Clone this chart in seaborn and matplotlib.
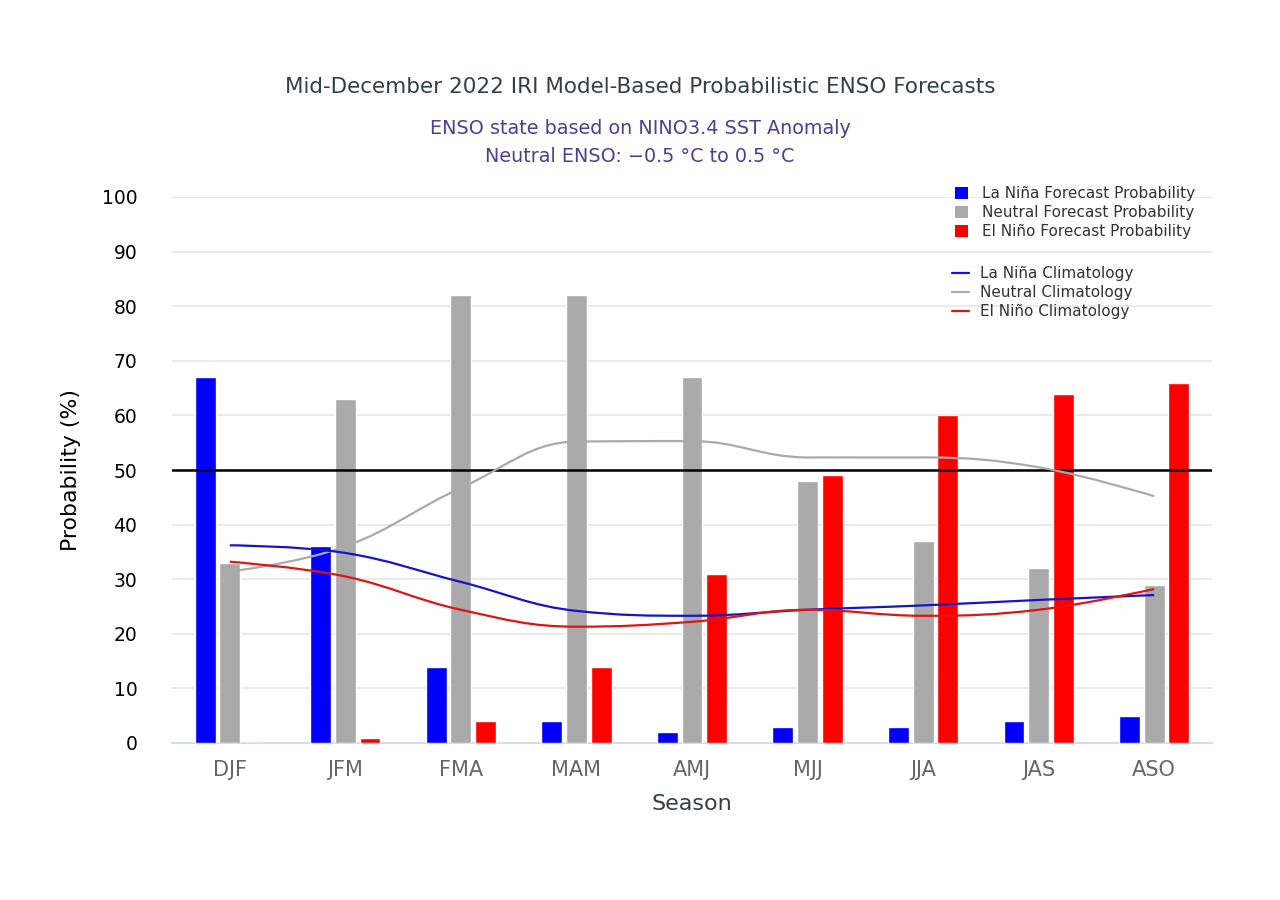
import numpy as np
import pandas as pd
import matplotlib
matplotlib.use("Agg")
import matplotlib.pyplot as plt
from matplotlib.path import Path
from matplotlib.patches import PathPatch, Patch
from matplotlib.lines import Line2D
import seaborn as sns

seasons = ["DJF", "JFM", "FMA", "MAM", "AMJ", "MJJ", "JJA", "JAS", "ASO"]
lanina_fc = [67, 36, 14, 4, 2, 3, 3, 4, 5]
neutral_fc = [33, 63, 82, 82, 67, 48, 37, 32, 29]
elnino_fc = [0, 1, 4, 14, 31, 49, 60, 64, 66]
lanina_clim = [36.2, 34.8, 29.5, 24.2, 23.3, 24.4, 25.2, 26.2, 27.1]
neutral_clim = [31.4, 36.0, 46.7, 55.2, 55.3, 52.3, 52.3, 50.5, 45.2]
elnino_clim = [33.2, 30.5, 24.4, 21.3, 22.2, 24.4, 23.3, 24.4, 28.2]
yticks = [0, 10, 20, 30, 40, 50, 60, 70, 80, 90, 100]

series_names = ["La Niña Forecast Probability", "Neutral Forecast Probability",
                "El Niño Forecast Probability"]
bar_colors = ["#0000ff", "#aaaaaa", "#ff0000"]
clim_names = ["La Niña Climatology", "Neutral Climatology", "El Niño Climatology"]
clim_colors = ["#1414c8", "#aaaaaa", "#e01414"]

df = pd.DataFrame({
    "Season": seasons * 3,
    "Probability": lanina_fc + neutral_fc + elnino_fc,
    "Series": [series_names[0]] * 9 + [series_names[1]] * 9 + [series_names[2]] * 9,
})

sns.set_theme(style="white")
FONT = ["DejaVu Sans"]
plt.rcParams["font.family"] = FONT

fig = plt.figure(figsize=(12.8, 9), dpi=100)
ax = fig.add_axes([172 / 1280, (900 - 743) / 900, 1040 / 1280, (743 - 197) / 900])

sns.barplot(data=df, x="Season", y="Probability", hue="Series", order=seasons,
            hue_order=series_names, palette=bar_colors, width=0.64, gap=0.15,
            saturation=1, ax=ax, legend=False, zorder=3)


def hc_spline(xs, ys, smoothing=1.5):
    n = len(xs)
    denom = smoothing + 1
    lc = [None] * n
    rc = [None] * n
    for i in range(1, n - 1):
        x, y = xs[i], ys[i]
        lx = (smoothing * x + xs[i - 1]) / denom
        ly = (smoothing * y + ys[i - 1]) / denom
        rx = (smoothing * x + xs[i + 1]) / denom
        ry = (smoothing * y + ys[i + 1]) / denom
        if rx != lx:
            corr = ((ry - ly) * (rx - x)) / (rx - lx) + y - ry
            ly += corr
            ry += corr
        if ly > max(ys[i - 1], y):
            ly = max(ys[i - 1], y); ry = 2 * y - ly
        elif ly < min(ys[i - 1], y):
            ly = min(ys[i - 1], y); ry = 2 * y - ly
        if ry > max(ys[i + 1], y):
            ry = max(ys[i + 1], y); ly = 2 * y - ry
        elif ry < min(ys[i + 1], y):
            ry = min(ys[i + 1], y); ly = 2 * y - ry
        lc[i] = (lx, ly)
        rc[i] = (rx, ry)
    verts = [(xs[0], ys[0])]
    codes = [Path.MOVETO]
    for i in range(1, n):
        c1 = rc[i - 1] if rc[i - 1] is not None else (xs[i - 1], ys[i - 1])
        c2 = lc[i] if lc[i] is not None else (xs[i], ys[i])
        verts += [c1, c2, (xs[i], ys[i])]
        codes += [Path.CURVE4] * 3
    return Path(verts, codes)


xpos = list(range(len(seasons)))
for vals, col in zip([neutral_clim, lanina_clim, elnino_clim],
                     [clim_colors[1], clim_colors[0], clim_colors[2]]):
    p = hc_spline(xpos, vals)
    ax.add_patch(PathPatch(p, facecolor="none", edgecolor=col, lw=1.6, zorder=5))

ax.axhline(50, color="black", lw=1.8, zorder=4)

ax.set_xlim(-0.5, len(seasons) - 0.5)
ax.set_ylim(0, 100)
ax.set_yticks(yticks)
ax.set_yticklabels([str(v) for v in yticks], fontsize=13.5, color="#000000")
ax.yaxis.grid(True, color="#e6e6e6", lw=1.2, zorder=0)
ax.xaxis.grid(False)
ax.set_axisbelow(True)
for s in ["top", "right", "left"]:
    ax.spines[s].set_visible(False)
ax.spines["bottom"].set_color("#ccd6eb")
ax.spines["bottom"].set_linewidth(1.2)
ax.tick_params(axis="x", length=0, labelsize=15, labelcolor="#666666", pad=12)
ax.tick_params(axis="y", length=0, pad=25)
ax.set_xlabel("Season", fontsize=16, color="#333f48", labelpad=10)
ax.set_ylabel("Probability (%)", fontsize=15.8, color="#000000", labelpad=15)

fig.text(0.5, 1 - 87 / 900, "Mid-December 2022 IRI Model-Based Probabilistic ENSO Forecasts",
         ha="center", va="center", fontsize=15.5, color="#333f48")
fig.text(0.5, 1 - 128 / 900, "ENSO state based on NINO3.4 SST Anomaly",
         ha="center", va="center", fontsize=13.8, color="#4e3f95")
fig.text(0.5, 1 - 157 / 900, "Neutral ENSO: \u22120.5 \u00b0C to 0.5 \u00b0C",
         ha="center", va="center", fontsize=13.8, color="#4e3f95")

bar_handles = [Patch(facecolor=c, edgecolor="none") for c in bar_colors]
leg1 = fig.legend(bar_handles, series_names, loc="upper left",
                  bbox_to_anchor=(949 / 1280, 1 - 180 / 900), frameon=False,
                  fontsize=11, handlelength=0.85, handleheight=0.85,
                  handletextpad=0.9, labelspacing=0.26, borderaxespad=0)
line_handles = [Line2D([], [], color=c, lw=1.6) for c in clim_colors]
leg2 = fig.legend(line_handles, clim_names, loc="upper left",
                  bbox_to_anchor=(946 / 1280, 1 - 260 / 900), frameon=False,
                  fontsize=11, handlelength=1.1,
                  handletextpad=0.75, labelspacing=0.26, borderaxespad=0)
for leg in (leg1, leg2):
    for t in leg.get_texts():
        t.set_color("#333333")

fig.savefig("out.png", dpi=100)
